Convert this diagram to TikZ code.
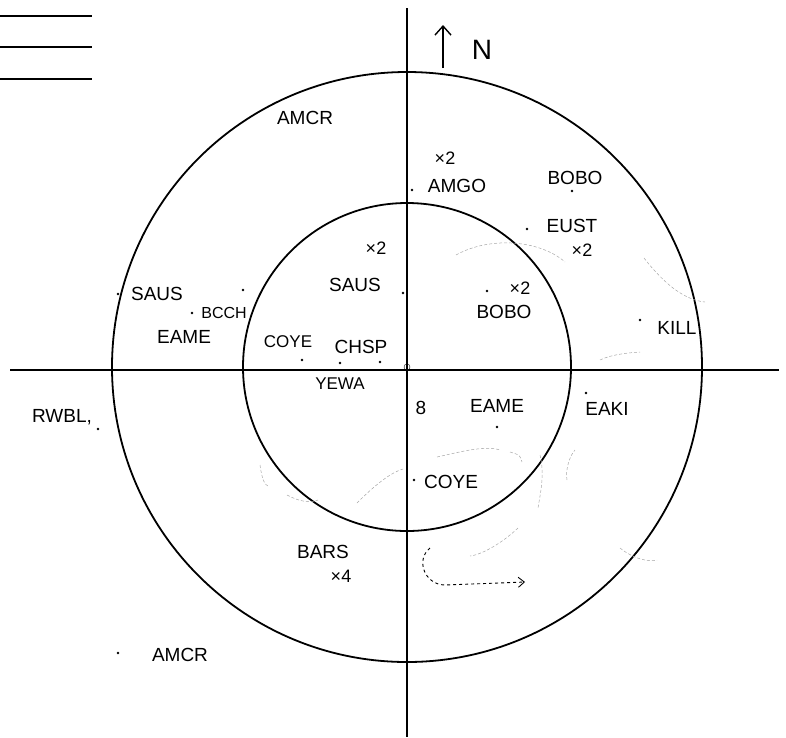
\documentclass[tikz,border=0pt]{standalone}
\usepackage{fontspec}
\setmainfont{Liberation Sans}
\usetikzlibrary{arrows.meta}

\begin{document}
\begin{tikzpicture}[x = 1pt, y = -1pt,
    species/.style = {font=\fontsize{19}{19}\selectfont},
    count/.style = {font=\fontsize{18}{18}\selectfont},
    spot/.style = {circle, fill=black, inner sep=0pt, minimum size=2.8pt},
    trace/.style = {gray!70, densely dashed, line width=0.5pt}]
    \useasboundingbox (0,0) rectangle (786,737);
    \draw[line width=2pt]
    (0,16) -- (92,16)
    (0,47) -- (92,47)
    (0,79) -- (92,79);
    \coordinate (ctr) at (407,367);
    \coordinate (west) at (10,370);
    \coordinate (east) at (779,370);
    \coordinate (north) at (407,8);
    \coordinate (south) at (407,737);
    \draw[line width=1.9pt] (west) -- (east);
    \draw[line width=1.9pt] (north) -- (south);
    \draw[line width=1.8pt] (ctr) circle (295);
    \draw[line width=1.8pt] (ctr) circle (164);
    \draw (ctr) circle (3);
    \draw[line width=1.4pt, -{Straight Barb[length=9pt, width=16pt]}] (443,68) -- (443,25);
    \node[font=\fontsize{28}{28}\selectfont] (nlabel) at (482,50) {N};
    \node[species] (amcr1) at (305,118) {AMCR};
    \node[count] (amgo2) at (445,158) {×2};
    \node[species] (amgo) at (457,186) {AMGO};
    \node[spot] (amgodot) at (412,190) {};
    \node[species] (bobo1) at (575,178) {BOBO};
    \node[spot] (bobo1dot) at (572,191) {};
    \node[species] (eust) at (572,226) {EUST};
    \node[spot] (eustdot) at (527,229) {};
    \node[count] (eust2) at (582,250) {×2};
    \node[count] (saus2) at (376,248) {×2};
    \node[species] (saus1) at (355,285) {SAUS};
    \node[spot] (saus1dot) at (403,293) {};
    \node[count] (bobo2x) at (520,288) {×2};
    \node[spot] (bobo2dot) at (487,291) {};
    \node[species] (bobo2) at (504,312) {BOBO};
    \node[species] (saus2l) at (157,294) {SAUS};
    \node[spot] (saus2dot) at (118,294) {};
    \node[spot] (stray) at (243,290) {};
    \node[species, font=\fontsize{16}{16}\selectfont] (bcch) at (224,313) {BCCH};
    \node[spot] (bcchdot) at (192,313) {};
    \node[species] (eame1) at (184,337) {EAME};
    \node[species, font=\fontsize{17}{17}\selectfont] (coye1) at (288,342) {COYE};
    \node[spot] (coye1dot) at (302,360) {};
    \node[species] (chsp) at (361,347) {CHSP};
    \node[spot] (chspdot1) at (340,363) {};
    \node[spot] (chspdot2) at (380,362) {};
    \node[species, font=\fontsize{17}{17}\selectfont] (yewa) at (340,384) {YEWA};
    \node[species] (rwbl) at (62,417) {RWBL,};
    \node[spot] (rwbldot) at (98,429) {};
    \node[species] (eight) at (421,408) {8};
    \node[species] (eame2) at (497,406) {EAME};
    \node[spot] (eame2dot) at (497,427) {};
    \node[species] (eaki) at (607,409) {EAKI};
    \node[spot] (eakidot) at (586,393) {};
    \node[species] (kill) at (677,328) {KILL};
    \node[spot] (killdot) at (640,320) {};
    \node[species] (coye2) at (451,482) {COYE};
    \node[spot] (coye2dot) at (414,480) {};
    \node[species] (bars) at (323,552) {BARS};
    \node[count] (bars4) at (341,576) {×4};
    \node[species] (amcr2) at (180,655) {AMCR};
    \node[spot] (amcr2dot) at (118,653) {};
    \draw[trace] (456,255) .. controls (490,236) and (540,240) .. (565,262);
    \draw[trace] (644,258) .. controls (665,285) and (685,300) .. (705,302);
    \draw[trace] (437,457) .. controls (460,452) and (485,445) .. (500,450);
    \draw[trace] (510,452) .. controls (520,455) .. (522,462);
    \draw[trace] (357,503) .. controls (375,485) and (390,473) .. (403,469);
    \draw[trace] (260,465) .. controls (262,480) and (265,485) .. (268,486);
    \draw[trace] (287,495) .. controls (300,502) and (310,503) .. (318,500);
    \draw[trace] (540,455) .. controls (545,475) and (540,495) .. (538,508);
    \draw[trace] (518,528) .. controls (500,545) and (480,555) .. (470,556);
    \draw[trace] (567,480) .. controls (565,470) and (570,455) .. (575,450);
    \draw[trace] (620,548) .. controls (635,560) and (650,562) .. (657,560);
    \draw[trace] (600,360) .. controls (610,355) and (625,353) .. (640,352);
    \draw[dashed, line width=0.9pt, -{Straight Barb[length=6pt, width=10pt]}]
    (430,548) .. controls (415,560) and (425,585) .. (445,585) -- (525,582);
\end{tikzpicture}
\end{document}
